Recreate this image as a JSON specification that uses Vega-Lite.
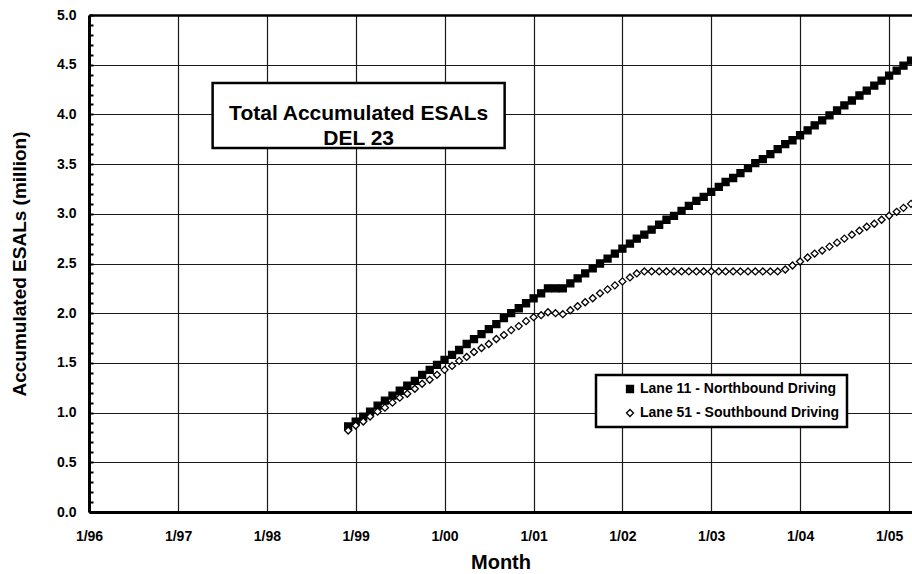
{
  "$schema": "https://vega.github.io/schema/vega-lite/v6.json",
  "width": 823,
  "height": 497,
  "autosize": {"type": "none"},
  "padding": {"left": 89, "top": 15, "right": 0, "bottom": 62},
  "background": "white",
  "config": {
    "view": {"stroke": null},
    "font": "Liberation Sans",
    "legend": {
      "fillColor": "white",
      "strokeColor": "black",
      "strokeWidth": 2.5,
      "padding": 7,
      "labelFont": "Liberation Sans",
      "labelFontSize": 14,
      "labelFontWeight": "bold",
      "labelColor": "black",
      "labelLimit": 400,
      "labelOffset": 3,
      "symbolOffset": 20,
      "rowPadding": 10,
      "symbolSize": 49,
      "symbolStrokeWidth": 1.3
    }
  },
  "datasets": {
    "esal": [
      {"date": "1998-12-01T00:00", "lane": "Lane 11 - Northbound Driving", "esal": 0.86},
      {"date": "1999-01-01T00:00", "lane": "Lane 11 - Northbound Driving", "esal": 0.91},
      {"date": "1999-02-01T00:00", "lane": "Lane 11 - Northbound Driving", "esal": 0.96},
      {"date": "1999-03-01T00:00", "lane": "Lane 11 - Northbound Driving", "esal": 1.01},
      {"date": "1999-04-01T00:00", "lane": "Lane 11 - Northbound Driving", "esal": 1.07},
      {"date": "1999-05-01T00:00", "lane": "Lane 11 - Northbound Driving", "esal": 1.12},
      {"date": "1999-06-01T00:00", "lane": "Lane 11 - Northbound Driving", "esal": 1.17},
      {"date": "1999-07-01T00:00", "lane": "Lane 11 - Northbound Driving", "esal": 1.22},
      {"date": "1999-08-01T00:00", "lane": "Lane 11 - Northbound Driving", "esal": 1.27},
      {"date": "1999-09-01T00:00", "lane": "Lane 11 - Northbound Driving", "esal": 1.32},
      {"date": "1999-10-01T00:00", "lane": "Lane 11 - Northbound Driving", "esal": 1.38},
      {"date": "1999-11-01T00:00", "lane": "Lane 11 - Northbound Driving", "esal": 1.43},
      {"date": "1999-12-01T00:00", "lane": "Lane 11 - Northbound Driving", "esal": 1.48},
      {"date": "2000-01-01T00:00", "lane": "Lane 11 - Northbound Driving", "esal": 1.53},
      {"date": "2000-02-01T00:00", "lane": "Lane 11 - Northbound Driving", "esal": 1.58},
      {"date": "2000-03-01T00:00", "lane": "Lane 11 - Northbound Driving", "esal": 1.63},
      {"date": "2000-04-01T00:00", "lane": "Lane 11 - Northbound Driving", "esal": 1.69},
      {"date": "2000-05-01T00:00", "lane": "Lane 11 - Northbound Driving", "esal": 1.74},
      {"date": "2000-06-01T00:00", "lane": "Lane 11 - Northbound Driving", "esal": 1.79},
      {"date": "2000-07-01T00:00", "lane": "Lane 11 - Northbound Driving", "esal": 1.84},
      {"date": "2000-08-01T00:00", "lane": "Lane 11 - Northbound Driving", "esal": 1.89},
      {"date": "2000-09-01T00:00", "lane": "Lane 11 - Northbound Driving", "esal": 1.95},
      {"date": "2000-10-01T00:00", "lane": "Lane 11 - Northbound Driving", "esal": 2.00},
      {"date": "2000-11-01T00:00", "lane": "Lane 11 - Northbound Driving", "esal": 2.05},
      {"date": "2000-12-01T00:00", "lane": "Lane 11 - Northbound Driving", "esal": 2.10},
      {"date": "2001-01-01T00:00", "lane": "Lane 11 - Northbound Driving", "esal": 2.15},
      {"date": "2001-02-01T00:00", "lane": "Lane 11 - Northbound Driving", "esal": 2.20},
      {"date": "2001-03-01T00:00", "lane": "Lane 11 - Northbound Driving", "esal": 2.25},
      {"date": "2001-04-01T00:00", "lane": "Lane 11 - Northbound Driving", "esal": 2.25},
      {"date": "2001-05-01T00:00", "lane": "Lane 11 - Northbound Driving", "esal": 2.25},
      {"date": "2001-06-01T00:00", "lane": "Lane 11 - Northbound Driving", "esal": 2.30},
      {"date": "2001-07-01T00:00", "lane": "Lane 11 - Northbound Driving", "esal": 2.35},
      {"date": "2001-08-01T00:00", "lane": "Lane 11 - Northbound Driving", "esal": 2.40},
      {"date": "2001-09-01T00:00", "lane": "Lane 11 - Northbound Driving", "esal": 2.45},
      {"date": "2001-10-01T00:00", "lane": "Lane 11 - Northbound Driving", "esal": 2.50},
      {"date": "2001-11-01T00:00", "lane": "Lane 11 - Northbound Driving", "esal": 2.55},
      {"date": "2001-12-01T00:00", "lane": "Lane 11 - Northbound Driving", "esal": 2.60},
      {"date": "2002-01-01T00:00", "lane": "Lane 11 - Northbound Driving", "esal": 2.65},
      {"date": "2002-02-01T00:00", "lane": "Lane 11 - Northbound Driving", "esal": 2.70},
      {"date": "2002-03-01T00:00", "lane": "Lane 11 - Northbound Driving", "esal": 2.75},
      {"date": "2002-04-01T00:00", "lane": "Lane 11 - Northbound Driving", "esal": 2.79},
      {"date": "2002-05-01T00:00", "lane": "Lane 11 - Northbound Driving", "esal": 2.84},
      {"date": "2002-06-01T00:00", "lane": "Lane 11 - Northbound Driving", "esal": 2.89},
      {"date": "2002-07-01T00:00", "lane": "Lane 11 - Northbound Driving", "esal": 2.94},
      {"date": "2002-08-01T00:00", "lane": "Lane 11 - Northbound Driving", "esal": 2.98},
      {"date": "2002-09-01T00:00", "lane": "Lane 11 - Northbound Driving", "esal": 3.03},
      {"date": "2002-10-01T00:00", "lane": "Lane 11 - Northbound Driving", "esal": 3.08},
      {"date": "2002-11-01T00:00", "lane": "Lane 11 - Northbound Driving", "esal": 3.13},
      {"date": "2002-12-01T00:00", "lane": "Lane 11 - Northbound Driving", "esal": 3.17},
      {"date": "2003-01-01T00:00", "lane": "Lane 11 - Northbound Driving", "esal": 3.22},
      {"date": "2003-02-01T00:00", "lane": "Lane 11 - Northbound Driving", "esal": 3.27},
      {"date": "2003-03-01T00:00", "lane": "Lane 11 - Northbound Driving", "esal": 3.32},
      {"date": "2003-04-01T00:00", "lane": "Lane 11 - Northbound Driving", "esal": 3.36},
      {"date": "2003-05-01T00:00", "lane": "Lane 11 - Northbound Driving", "esal": 3.41},
      {"date": "2003-06-01T00:00", "lane": "Lane 11 - Northbound Driving", "esal": 3.46},
      {"date": "2003-07-01T00:00", "lane": "Lane 11 - Northbound Driving", "esal": 3.51},
      {"date": "2003-08-01T00:00", "lane": "Lane 11 - Northbound Driving", "esal": 3.55},
      {"date": "2003-09-01T00:00", "lane": "Lane 11 - Northbound Driving", "esal": 3.60},
      {"date": "2003-10-01T00:00", "lane": "Lane 11 - Northbound Driving", "esal": 3.65},
      {"date": "2003-11-01T00:00", "lane": "Lane 11 - Northbound Driving", "esal": 3.70},
      {"date": "2003-12-01T00:00", "lane": "Lane 11 - Northbound Driving", "esal": 3.74},
      {"date": "2004-01-01T00:00", "lane": "Lane 11 - Northbound Driving", "esal": 3.79},
      {"date": "2004-02-01T00:00", "lane": "Lane 11 - Northbound Driving", "esal": 3.84},
      {"date": "2004-03-01T00:00", "lane": "Lane 11 - Northbound Driving", "esal": 3.89},
      {"date": "2004-04-01T00:00", "lane": "Lane 11 - Northbound Driving", "esal": 3.94},
      {"date": "2004-05-01T00:00", "lane": "Lane 11 - Northbound Driving", "esal": 3.99},
      {"date": "2004-06-01T00:00", "lane": "Lane 11 - Northbound Driving", "esal": 4.04},
      {"date": "2004-07-01T00:00", "lane": "Lane 11 - Northbound Driving", "esal": 4.09},
      {"date": "2004-08-01T00:00", "lane": "Lane 11 - Northbound Driving", "esal": 4.14},
      {"date": "2004-09-01T00:00", "lane": "Lane 11 - Northbound Driving", "esal": 4.19},
      {"date": "2004-10-01T00:00", "lane": "Lane 11 - Northbound Driving", "esal": 4.24},
      {"date": "2004-11-01T00:00", "lane": "Lane 11 - Northbound Driving", "esal": 4.29},
      {"date": "2004-12-01T00:00", "lane": "Lane 11 - Northbound Driving", "esal": 4.34},
      {"date": "2005-01-01T00:00", "lane": "Lane 11 - Northbound Driving", "esal": 4.39},
      {"date": "2005-02-01T00:00", "lane": "Lane 11 - Northbound Driving", "esal": 4.44},
      {"date": "2005-03-01T00:00", "lane": "Lane 11 - Northbound Driving", "esal": 4.49},
      {"date": "2005-04-01T00:00", "lane": "Lane 11 - Northbound Driving", "esal": 4.54},
      {"date": "1998-12-01T00:00", "lane": "Lane 51 - Southbound Driving", "esal": 0.82},
      {"date": "1999-01-01T00:00", "lane": "Lane 51 - Southbound Driving", "esal": 0.87},
      {"date": "1999-02-01T00:00", "lane": "Lane 51 - Southbound Driving", "esal": 0.91},
      {"date": "1999-03-01T00:00", "lane": "Lane 51 - Southbound Driving", "esal": 0.96},
      {"date": "1999-04-01T00:00", "lane": "Lane 51 - Southbound Driving", "esal": 1.01},
      {"date": "1999-05-01T00:00", "lane": "Lane 51 - Southbound Driving", "esal": 1.05},
      {"date": "1999-06-01T00:00", "lane": "Lane 51 - Southbound Driving", "esal": 1.10},
      {"date": "1999-07-01T00:00", "lane": "Lane 51 - Southbound Driving", "esal": 1.15},
      {"date": "1999-08-01T00:00", "lane": "Lane 51 - Southbound Driving", "esal": 1.19},
      {"date": "1999-09-01T00:00", "lane": "Lane 51 - Southbound Driving", "esal": 1.24},
      {"date": "1999-10-01T00:00", "lane": "Lane 51 - Southbound Driving", "esal": 1.29},
      {"date": "1999-11-01T00:00", "lane": "Lane 51 - Southbound Driving", "esal": 1.33},
      {"date": "1999-12-01T00:00", "lane": "Lane 51 - Southbound Driving", "esal": 1.38},
      {"date": "2000-01-01T00:00", "lane": "Lane 51 - Southbound Driving", "esal": 1.43},
      {"date": "2000-02-01T00:00", "lane": "Lane 51 - Southbound Driving", "esal": 1.47},
      {"date": "2000-03-01T00:00", "lane": "Lane 51 - Southbound Driving", "esal": 1.52},
      {"date": "2000-04-01T00:00", "lane": "Lane 51 - Southbound Driving", "esal": 1.56},
      {"date": "2000-05-01T00:00", "lane": "Lane 51 - Southbound Driving", "esal": 1.61},
      {"date": "2000-06-01T00:00", "lane": "Lane 51 - Southbound Driving", "esal": 1.65},
      {"date": "2000-07-01T00:00", "lane": "Lane 51 - Southbound Driving", "esal": 1.69},
      {"date": "2000-08-01T00:00", "lane": "Lane 51 - Southbound Driving", "esal": 1.74},
      {"date": "2000-09-01T00:00", "lane": "Lane 51 - Southbound Driving", "esal": 1.78},
      {"date": "2000-10-01T00:00", "lane": "Lane 51 - Southbound Driving", "esal": 1.83},
      {"date": "2000-11-01T00:00", "lane": "Lane 51 - Southbound Driving", "esal": 1.87},
      {"date": "2000-12-01T00:00", "lane": "Lane 51 - Southbound Driving", "esal": 1.92},
      {"date": "2001-01-01T00:00", "lane": "Lane 51 - Southbound Driving", "esal": 1.96},
      {"date": "2001-02-01T00:00", "lane": "Lane 51 - Southbound Driving", "esal": 1.98},
      {"date": "2001-03-01T00:00", "lane": "Lane 51 - Southbound Driving", "esal": 2.01},
      {"date": "2001-04-01T00:00", "lane": "Lane 51 - Southbound Driving", "esal": 2.00},
      {"date": "2001-05-01T00:00", "lane": "Lane 51 - Southbound Driving", "esal": 1.99},
      {"date": "2001-06-01T00:00", "lane": "Lane 51 - Southbound Driving", "esal": 2.03},
      {"date": "2001-07-01T00:00", "lane": "Lane 51 - Southbound Driving", "esal": 2.07},
      {"date": "2001-08-01T00:00", "lane": "Lane 51 - Southbound Driving", "esal": 2.11},
      {"date": "2001-09-01T00:00", "lane": "Lane 51 - Southbound Driving", "esal": 2.15},
      {"date": "2001-10-01T00:00", "lane": "Lane 51 - Southbound Driving", "esal": 2.20},
      {"date": "2001-11-01T00:00", "lane": "Lane 51 - Southbound Driving", "esal": 2.24},
      {"date": "2001-12-01T00:00", "lane": "Lane 51 - Southbound Driving", "esal": 2.28},
      {"date": "2002-01-01T00:00", "lane": "Lane 51 - Southbound Driving", "esal": 2.32},
      {"date": "2002-02-01T00:00", "lane": "Lane 51 - Southbound Driving", "esal": 2.36},
      {"date": "2002-03-01T00:00", "lane": "Lane 51 - Southbound Driving", "esal": 2.40},
      {"date": "2002-04-01T00:00", "lane": "Lane 51 - Southbound Driving", "esal": 2.42},
      {"date": "2002-05-01T00:00", "lane": "Lane 51 - Southbound Driving", "esal": 2.42},
      {"date": "2002-06-01T00:00", "lane": "Lane 51 - Southbound Driving", "esal": 2.42},
      {"date": "2002-07-01T00:00", "lane": "Lane 51 - Southbound Driving", "esal": 2.42},
      {"date": "2002-08-01T00:00", "lane": "Lane 51 - Southbound Driving", "esal": 2.42},
      {"date": "2002-09-01T00:00", "lane": "Lane 51 - Southbound Driving", "esal": 2.42},
      {"date": "2002-10-01T00:00", "lane": "Lane 51 - Southbound Driving", "esal": 2.42},
      {"date": "2002-11-01T00:00", "lane": "Lane 51 - Southbound Driving", "esal": 2.42},
      {"date": "2002-12-01T00:00", "lane": "Lane 51 - Southbound Driving", "esal": 2.42},
      {"date": "2003-01-01T00:00", "lane": "Lane 51 - Southbound Driving", "esal": 2.42},
      {"date": "2003-02-01T00:00", "lane": "Lane 51 - Southbound Driving", "esal": 2.42},
      {"date": "2003-03-01T00:00", "lane": "Lane 51 - Southbound Driving", "esal": 2.42},
      {"date": "2003-04-01T00:00", "lane": "Lane 51 - Southbound Driving", "esal": 2.42},
      {"date": "2003-05-01T00:00", "lane": "Lane 51 - Southbound Driving", "esal": 2.42},
      {"date": "2003-06-01T00:00", "lane": "Lane 51 - Southbound Driving", "esal": 2.42},
      {"date": "2003-07-01T00:00", "lane": "Lane 51 - Southbound Driving", "esal": 2.42},
      {"date": "2003-08-01T00:00", "lane": "Lane 51 - Southbound Driving", "esal": 2.42},
      {"date": "2003-09-01T00:00", "lane": "Lane 51 - Southbound Driving", "esal": 2.42},
      {"date": "2003-10-01T00:00", "lane": "Lane 51 - Southbound Driving", "esal": 2.42},
      {"date": "2003-11-01T00:00", "lane": "Lane 51 - Southbound Driving", "esal": 2.44},
      {"date": "2003-12-01T00:00", "lane": "Lane 51 - Southbound Driving", "esal": 2.48},
      {"date": "2004-01-01T00:00", "lane": "Lane 51 - Southbound Driving", "esal": 2.52},
      {"date": "2004-02-01T00:00", "lane": "Lane 51 - Southbound Driving", "esal": 2.56},
      {"date": "2004-03-01T00:00", "lane": "Lane 51 - Southbound Driving", "esal": 2.60},
      {"date": "2004-04-01T00:00", "lane": "Lane 51 - Southbound Driving", "esal": 2.63},
      {"date": "2004-05-01T00:00", "lane": "Lane 51 - Southbound Driving", "esal": 2.67},
      {"date": "2004-06-01T00:00", "lane": "Lane 51 - Southbound Driving", "esal": 2.71},
      {"date": "2004-07-01T00:00", "lane": "Lane 51 - Southbound Driving", "esal": 2.75},
      {"date": "2004-08-01T00:00", "lane": "Lane 51 - Southbound Driving", "esal": 2.79},
      {"date": "2004-09-01T00:00", "lane": "Lane 51 - Southbound Driving", "esal": 2.83},
      {"date": "2004-10-01T00:00", "lane": "Lane 51 - Southbound Driving", "esal": 2.87},
      {"date": "2004-11-01T00:00", "lane": "Lane 51 - Southbound Driving", "esal": 2.90},
      {"date": "2004-12-01T00:00", "lane": "Lane 51 - Southbound Driving", "esal": 2.94},
      {"date": "2005-01-01T00:00", "lane": "Lane 51 - Southbound Driving", "esal": 2.98},
      {"date": "2005-02-01T00:00", "lane": "Lane 51 - Southbound Driving", "esal": 3.02},
      {"date": "2005-03-01T00:00", "lane": "Lane 51 - Southbound Driving", "esal": 3.06},
      {"date": "2005-04-01T00:00", "lane": "Lane 51 - Southbound Driving", "esal": 3.10}
    ],
    "titlebox": [
      {"start": "1997-05-23T00:00", "end": "2000-09-04T00:00", "top": 4.316, "bottom": 3.662}
    ],
    "titletext": [
      {"date": "1999-01-13T00:00", "esal": 4.0, "label": "Total Accumulated ESALs\nDEL 23"}
    ]
  },
  "layer": [
    {
      "data": {"name": "esal"},
      "mark": {"type": "point", "filled": true, "strokeWidth": 1.3, "size": 49, "opacity": 1},
      "encoding": {
        "x": {
          "field": "date", "type": "temporal",
          "scale": {"domain": [{"year": 1996, "month": 1, "date": 1}, {"year": 2005, "month": 4, "date": 5}], "nice": false},
          "axis": {
            "orient": "bottom",
            "values": [
              {"year": 1996, "month": 1, "date": 1}, {"year": 1997, "month": 1, "date": 1},
              {"year": 1998, "month": 1, "date": 1}, {"year": 1999, "month": 1, "date": 1},
              {"year": 2000, "month": 1, "date": 1}, {"year": 2001, "month": 1, "date": 1},
              {"year": 2002, "month": 1, "date": 1}, {"year": 2003, "month": 1, "date": 1},
              {"year": 2004, "month": 1, "date": 1}, {"year": 2005, "month": 1, "date": 1}
            ],
            "format": "%-m/%y",
            "title": "Month",
            "titleFontSize": 20,
            "titleFontWeight": "bold",
            "titleColor": "black",
            "titlePadding": 9,
            "labelFontSize": 14,
            "labelFontWeight": "bold",
            "labelColor": "black",
            "labelPadding": 17,
            "labelFlush": false,
            "labelOverlap": false,
            "ticks": false,
            "tickSize": 0,
            "domain": true,
            "domainColor": "black",
            "domainWidth": 3,
            "grid": true,
            "gridColor": "#1a1a1a",
            "gridWidth": 1.2,
            "gridOpacity": 1
          }
        },
        "y": {
          "field": "esal", "type": "quantitative",
          "scale": {"domain": [0, 5], "nice": false},
          "axis": {
            "orient": "left",
            "values": [0, 0.5, 1, 1.5, 2, 2.5, 3, 3.5, 4, 4.5, 5],
            "format": ".1f",
            "title": "Accumulated ESALs (million)",
            "titleFontSize": 19,
            "titleFontWeight": "bold",
            "titleColor": "black",
            "titlePadding": 27,
            "labelFontSize": 14,
            "labelFontWeight": "bold",
            "labelColor": "black",
            "labelPadding": 13,
            "labelFlush": false,
            "ticks": false,
            "tickSize": 0,
            "domain": true,
            "domainColor": "black",
            "domainWidth": 3,
            "grid": true,
            "gridColor": "#1a1a1a",
            "gridWidth": 1.2,
            "gridOpacity": 1
          }
        },
        "shape": {
          "field": "lane", "type": "nominal",
          "scale": {"domain": ["Lane 11 - Northbound Driving", "Lane 51 - Southbound Driving"], "range": ["square", "diamond"]},
          "legend": {"title": null, "orient": "none", "legendX": 507, "legendY": 360, "labelLimit": 400}
        },
        "fill": {
          "field": "lane", "type": "nominal",
          "scale": {"domain": ["Lane 11 - Northbound Driving", "Lane 51 - Southbound Driving"], "range": ["black", "white"]},
          "legend": {"title": null, "orient": "none", "legendX": 507, "legendY": 360, "labelLimit": 400}
        },
        "stroke": {
          "field": "lane", "type": "nominal",
          "scale": {"domain": ["Lane 11 - Northbound Driving", "Lane 51 - Southbound Driving"], "range": ["black", "black"]},
          "legend": {"title": null, "orient": "none", "legendX": 507, "legendY": 360, "labelLimit": 400}
        }
      }
    },
    {
      "data": {"name": "titlebox"},
      "mark": {"type": "rect", "fill": "white", "stroke": "black", "strokeWidth": 2.5},
      "encoding": {
        "x": {
          "field": "start", "type": "temporal",
          "scale": {"domain": [{"year": 1996, "month": 1, "date": 1}, {"year": 2005, "month": 4, "date": 5}], "nice": false},
          "axis": {"orient": "top", "title": null, "labels": false, "ticks": false, "grid": false, "domain": true, "domainColor": "black", "domainWidth": 2.5}
        },
        "x2": {"field": "end"},
        "y": {
          "field": "top", "type": "quantitative",
          "scale": {"domain": [0, 5], "nice": false},
          "axis": {
            "orient": "left",
            "values": [0, 0.1, 0.2, 0.3, 0.4, 0.5, 0.6, 0.7, 0.8, 0.9, 1, 1.1, 1.2, 1.3, 1.4, 1.5, 1.6, 1.7, 1.8, 1.9, 2, 2.1, 2.2, 2.3, 2.4, 2.5, 2.6, 2.7, 2.8, 2.9, 3, 3.1, 3.2, 3.3, 3.4, 3.5, 3.6, 3.7, 3.8, 3.9, 4, 4.1, 4.2, 4.3, 4.4, 4.5, 4.6, 4.7, 4.8, 4.9, 5],
            "title": null, "labels": false, "grid": false, "domain": false,
            "ticks": true, "tickSize": 4, "tickWidth": 2, "tickColor": "black", "offset": -4
          }
        },
        "y2": {"field": "bottom"}
      }
    },
    {
      "data": {"name": "titletext"},
      "mark": {"type": "text", "lineBreak": "\n", "fontSize": 21, "fontWeight": "bold", "font": "Liberation Sans", "lineHeight": 25, "align": "center", "baseline": "middle", "color": "black"},
      "encoding": {
        "x": {"field": "date", "type": "temporal", "scale": {"domain": [{"year": 1996, "month": 1, "date": 1}, {"year": 2005, "month": 4, "date": 5}], "nice": false}, "axis": null},
        "y": {"field": "esal", "type": "quantitative", "scale": {"domain": [0, 5], "nice": false}, "axis": null},
        "text": {"field": "label"}
      }
    }
  ],
  "resolve": {"axis": {"x": "independent", "y": "independent"}}
}
